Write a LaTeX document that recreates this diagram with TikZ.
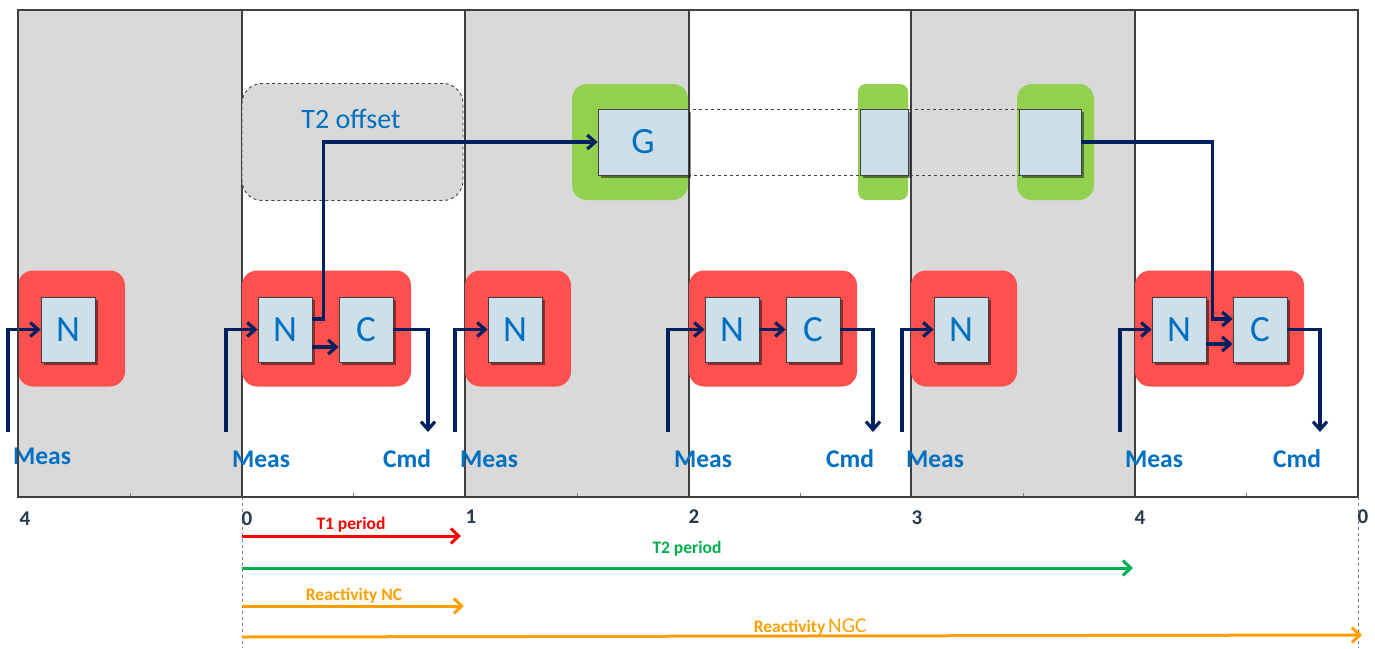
\documentclass[tikz,border=0pt]{standalone}
\usepackage{fontspec}
\setmainfont{Carlito}
\usetikzlibrary{arrows.meta,shadows}
\definecolor{navy}{HTML}{002060}
\definecolor{txtblue}{HTML}{0070C0}
\definecolor{colgray}{HTML}{D9D9D9}
\definecolor{framegray}{HTML}{404040}
\definecolor{redbg}{HTML}{FF5050}
\definecolor{greenbg}{HTML}{92D050}
\definecolor{boxblue}{HTML}{CDDFE9}
\definecolor{ticktxt}{HTML}{263A4D}
\definecolor{periodred}{HTML}{FF0000}
\definecolor{periodgreen}{HTML}{00B050}
\definecolor{reactorange}{HTML}{FFA000}
\tikzset{
  redbox/.style={fill=redbg, rounded corners=15pt, inner sep=0pt},
  greenbox/.style={fill=greenbg, rounded corners=15pt, inner sep=0pt},
  bluebox/.style={fill=boxblue, draw=framegray, line width=0.8pt, inner sep=0pt,
    minimum width=54pt, minimum height=65pt, text=txtblue,
    font=\fontsize{37}{37}\selectfont,
    drop shadow={shadow xshift=3pt, shadow yshift=-3pt, opacity=0.45, fill=black}},
  sig/.style={draw=navy, line width=3.2pt},
  sigarr/.style={sig, -{Straight Barb[length=8pt,width=14pt]}},
  meas/.style={text=txtblue, font=\fontsize{25.5}{25.5}\selectfont\bfseries, anchor=base, inner sep=0pt},
  ticklbl/.style={text=ticktxt, font=\fontsize{21}{21}\selectfont\bfseries, anchor=base, inner sep=0pt},
  perlbl/.style={font=\fontsize{17.5}{17.5}\selectfont\bfseries, anchor=base, inner sep=0pt},
  perarr/.style={line width=3pt, -{Straight Barb[length=8pt,width=15pt]}},
  colline/.style={draw=framegray, line width=1.3pt},
  guide/.style={draw=gray, line width=0.7pt, dashed},
}
\begin{document}
\begin{tikzpicture}[x=1pt,y=-1pt]
\useasboundingbox (0,0) rectangle (1375,648);
\fill[white] (0,0) rectangle (1375,648);

% columns
\fill[colgray] (18,10) rectangle (242,497);
\fill[colgray] (465,10) rectangle (689,497);
\fill[colgray] (911,10) rectangle (1135,497);
\foreach \x in {242,465,689,911,1135}{\draw[colline] (\x,10) -- (\x,497);}
\foreach \x in {130,353.5,577,800,1023,1246.5}{\draw[draw=gray,line width=0.6pt] (\x,493) -- (\x,497);}

% T2 offset
\node[fill=colgray, draw=framegray, dashed, line width=0.9pt, rounded corners=20pt,
  minimum width=221pt, minimum height=117pt, inner sep=0pt] (off) at (352.5,142) {};
\node[text=txtblue, font=\fontsize{28}{28}\selectfont] (offlbl) at (351,119) {T2 offset};

% green boxes
\node[greenbox, minimum width=116pt, minimum height=116pt] (gb1) at (630,142) {};
\node[greenbox, rounded corners=8pt, minimum width=50pt, minimum height=116pt] (gb2) at (883,142) {};
\node[greenbox, minimum width=77pt, minimum height=116pt] (gb3) at (1055.5,142) {};
\draw[draw=framegray, line width=0.8pt, dashed] (688,109) rectangle (1019,175);
\node[bluebox, minimum width=90pt, minimum height=66pt] (g1) at (643,142) {G};
\node[bluebox, minimum width=48pt, minimum height=66pt] (g2) at (884,142) {};
\node[bluebox, minimum width=62pt, minimum height=66pt] (g3) at (1050,142) {};

% red boxes
\node[redbox, minimum width=107pt, minimum height=116pt] (rA) at (71.5,328.5) {};
\node[redbox, minimum width=169pt, minimum height=116pt] (rB) at (326.5,328.5) {};
\node[redbox, minimum width=106pt, minimum height=116pt] (rC) at (518,328.5) {};
\node[redbox, minimum width=168pt, minimum height=116pt] (rD) at (773,328.5) {};
\node[redbox, minimum width=106pt, minimum height=116pt] (rE) at (964,328.5) {};
\node[redbox, minimum width=169pt, minimum height=116pt] (rF) at (1219.5,328.5) {};

% N / C boxes
\node[bluebox] (nA) at (68,329.5) {N};
\node[bluebox] (nB) at (285,329.5) {N};
\node[bluebox] (cB) at (366,329.5) {C};
\node[bluebox] (nC) at (515,329.5) {N};
\node[bluebox] (nD) at (732,329.5) {N};
\node[bluebox] (cD) at (813,329.5) {C};
\node[bluebox] (nE) at (961,329.5) {N};
\node[bluebox] (nF) at (1179,329.5) {N};
\node[bluebox] (cF) at (1260,329.5) {C};

% inputs
\coordinate (iA) at (8,432);
\coordinate (iB) at (226,432);
\coordinate (iC) at (455,432);
\coordinate (iD) at (668,432);
\coordinate (iE) at (902,432);
\coordinate (iF) at (1120,432);
\draw[sigarr] (iA) |- (nA.west);
\draw[sigarr] (iB) |- (nB.west);
\draw[sigarr] (iC) |- (nC.west);
\draw[sigarr] (iD) |- (nD.west);
\draw[sigarr] (iE) |- (nE.west);
\draw[sigarr] (iF) |- (nF.west);

% outputs
\coordinate (oB) at (428,432);
\coordinate (oD) at (873,432);
\coordinate (oF) at (1320,432);
\draw[sigarr] (cB.east) -| (oB);
\draw[sigarr] (cD.east) -| (oD);
\draw[sigarr] (cF.east) -| (oF);

% N -> C
\draw[sigarr] ([yshift=-17.5pt]nB.east) -- ([yshift=-17.5pt]cB.west);
\draw[sigarr] (nD.east) -- (cD.west);
\draw[sigarr] ([yshift=-14.5pt]nF.east) -- ([yshift=-14.5pt]cF.west);

% N -> G, G -> C
\draw[sigarr] ([yshift=10.5pt]nB.east) -- ++(11,0) |- (g1.west);
\draw[sigarr] (g3.east) -| ([xshift=-20pt,yshift=10.5pt]cF.west) -- ([yshift=10.5pt]cF.west);

% labels
\node[meas] (mA) at (42,464) {Meas};
\node[meas] (mB) at (261,467) {Meas};
\node[meas] (mC) at (489,467) {Meas};
\node[meas] (mD) at (703,467) {Meas};
\node[meas] (mE) at (935,467) {Meas};
\node[meas] (mF) at (1154,467) {Meas};
\node[meas] (kB) at (407,467) {Cmd};
\node[meas] (kD) at (850,467) {Cmd};
\node[meas] (kF) at (1297,467) {Cmd};

% frame
\draw[draw=framegray, line width=2pt] (18,10) rectangle (1358,497);

% guides
\draw[guide] (242,497) -- (242,648);
\draw[guide] (1358,497) -- (1358,648);

% ticks
\node[ticklbl] (t0) at (25,525) {4};
\node[ticklbl] (t1) at (247,525) {0};
\node[ticklbl] (t2) at (471,523) {1};
\node[ticklbl] (t3) at (694,523) {2};
\node[ticklbl] (t4) at (917,524) {3};
\node[ticklbl] (t5) at (1140,524) {4};
\node[ticklbl] (t6) at (1363,523) {0};

% period arrows
\coordinate (p1s) at (242,536); \coordinate (p1e) at (461,536);
\coordinate (p2s) at (242,568); \coordinate (p2e) at (1133,568);
\coordinate (p3s) at (242,606); \coordinate (p3e) at (464,606);
\coordinate (p4s) at (242,637); \coordinate (p4e) at (1362,635);
\draw[perarr, draw=periodred] (p1s) -- (p1e);
\draw[perarr, draw=periodgreen] (p2s) -- (p2e);
\draw[perarr, draw=reactorange] (p3s) -- (p3e);
\draw[perarr, draw=reactorange] (p4s) -- (p4e);
\node[perlbl, text=periodred] (l1) at (351,529) {T1 period};
\node[perlbl, text=periodgreen] (l2) at (687,553) {T2 period};
\node[perlbl, text=reactorange] (l3) at (354,600) {Reactivity NC};
\node[perlbl, text=reactorange] (l4) at (810,632) {Reactivity\,{\mdseries\fontsize{21}{21}\selectfont NGC}};
\end{tikzpicture}
\end{document}
